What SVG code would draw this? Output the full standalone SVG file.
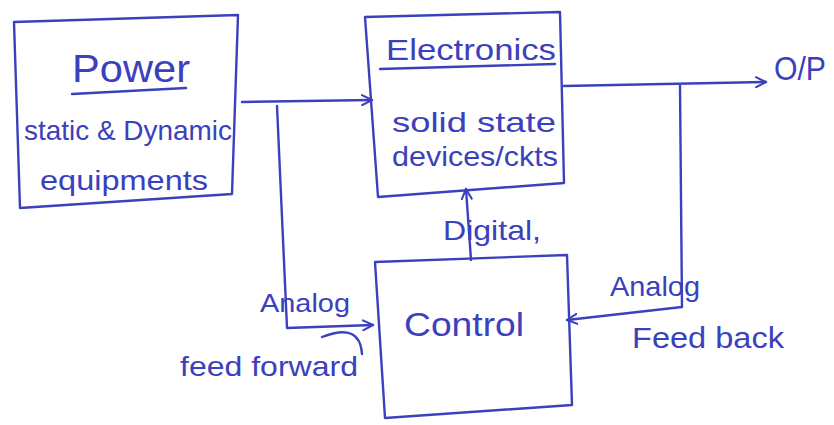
<svg xmlns="http://www.w3.org/2000/svg" width="834" height="425" viewBox="0 0 834 425">
<defs>
<style>
.ink{fill:none;stroke:#3b40bd;stroke-width:2.4;stroke-linecap:round;stroke-linejoin:round}
.t{fill:#3b40bd;font-family:"Liberation Sans",Arial,sans-serif}
</style>
<marker id="ah" viewBox="0 0 12 12" refX="11" refY="6" markerWidth="12" markerHeight="12" markerUnits="userSpaceOnUse" orient="auto">
<path d="M1 1 L11 6 L1 11" fill="none" stroke="#3b40bd" stroke-width="2" stroke-linecap="round" stroke-linejoin="round"/>
</marker>
</defs>
<rect width="834" height="425" fill="#ffffff"/>
<g id="power">
<path class="ink" d="M14 22 L238 15 L232 194 L20 208 Z"/>
<text class="t" x="72" y="82" font-size="38" textLength="118" lengthAdjust="spacingAndGlyphs">Power</text>
<path class="ink" d="M72 94 L186 88"/>
<text class="t" x="24" y="140" font-size="28" textLength="208" lengthAdjust="spacingAndGlyphs">static &amp; Dynamic</text>
<text class="t" x="40" y="190" font-size="28" textLength="168" lengthAdjust="spacingAndGlyphs">equipments</text>
</g>
<g id="electronics">
<path class="ink" d="M365 17 L560 12 L564 183 L378 197 Z"/>
<text class="t" x="386" y="60" font-size="30" textLength="170" lengthAdjust="spacingAndGlyphs">Electronics</text>
<path class="ink" d="M380 69 L555 64"/>
<text class="t" x="392" y="132" font-size="28" textLength="164" lengthAdjust="spacingAndGlyphs">solid state</text>
<text class="t" x="392" y="166" font-size="28" textLength="166" lengthAdjust="spacingAndGlyphs">devices/ckts</text>
</g>
<g id="control">
<path class="ink" d="M375 262 L567 255 L572 405 L385 418 Z"/>
<text class="t" x="404" y="336" font-size="34" textLength="120" lengthAdjust="spacingAndGlyphs">Control</text>
</g>
<g id="output">
<text class="t" x="774" y="80" font-size="34" textLength="52" lengthAdjust="spacingAndGlyphs">O/P</text>
</g>
<g id="connectors">
<path class="ink" d="M242 102 L372 100" marker-end="url(#ah)"/>
<path class="ink" d="M277 106 L287 328 L373 325" marker-end="url(#ah)"/>
<path class="ink" d="M322 337 Q360 322 362 354"/>
<path class="ink" d="M564 86 L766 82" marker-end="url(#ah)"/>
<path class="ink" d="M680 86 L682 307 L567 320" marker-end="url(#ah)"/>
<path class="ink" d="M471 260 L466 189" marker-end="url(#ah)"/>
</g>
<g id="labels">
<text class="t" x="443" y="240" font-size="28" textLength="98" lengthAdjust="spacingAndGlyphs">Digital,</text>
<text class="t" x="260" y="312" font-size="26" textLength="90" lengthAdjust="spacingAndGlyphs">Analog</text>
<text class="t" x="180" y="376" font-size="28" textLength="178" lengthAdjust="spacingAndGlyphs">feed forward</text>
<text class="t" x="610" y="296" font-size="28" textLength="90" lengthAdjust="spacingAndGlyphs">Analog</text>
<text class="t" x="632" y="348" font-size="30" textLength="152" lengthAdjust="spacingAndGlyphs">Feed back</text>
</g>
</svg>
